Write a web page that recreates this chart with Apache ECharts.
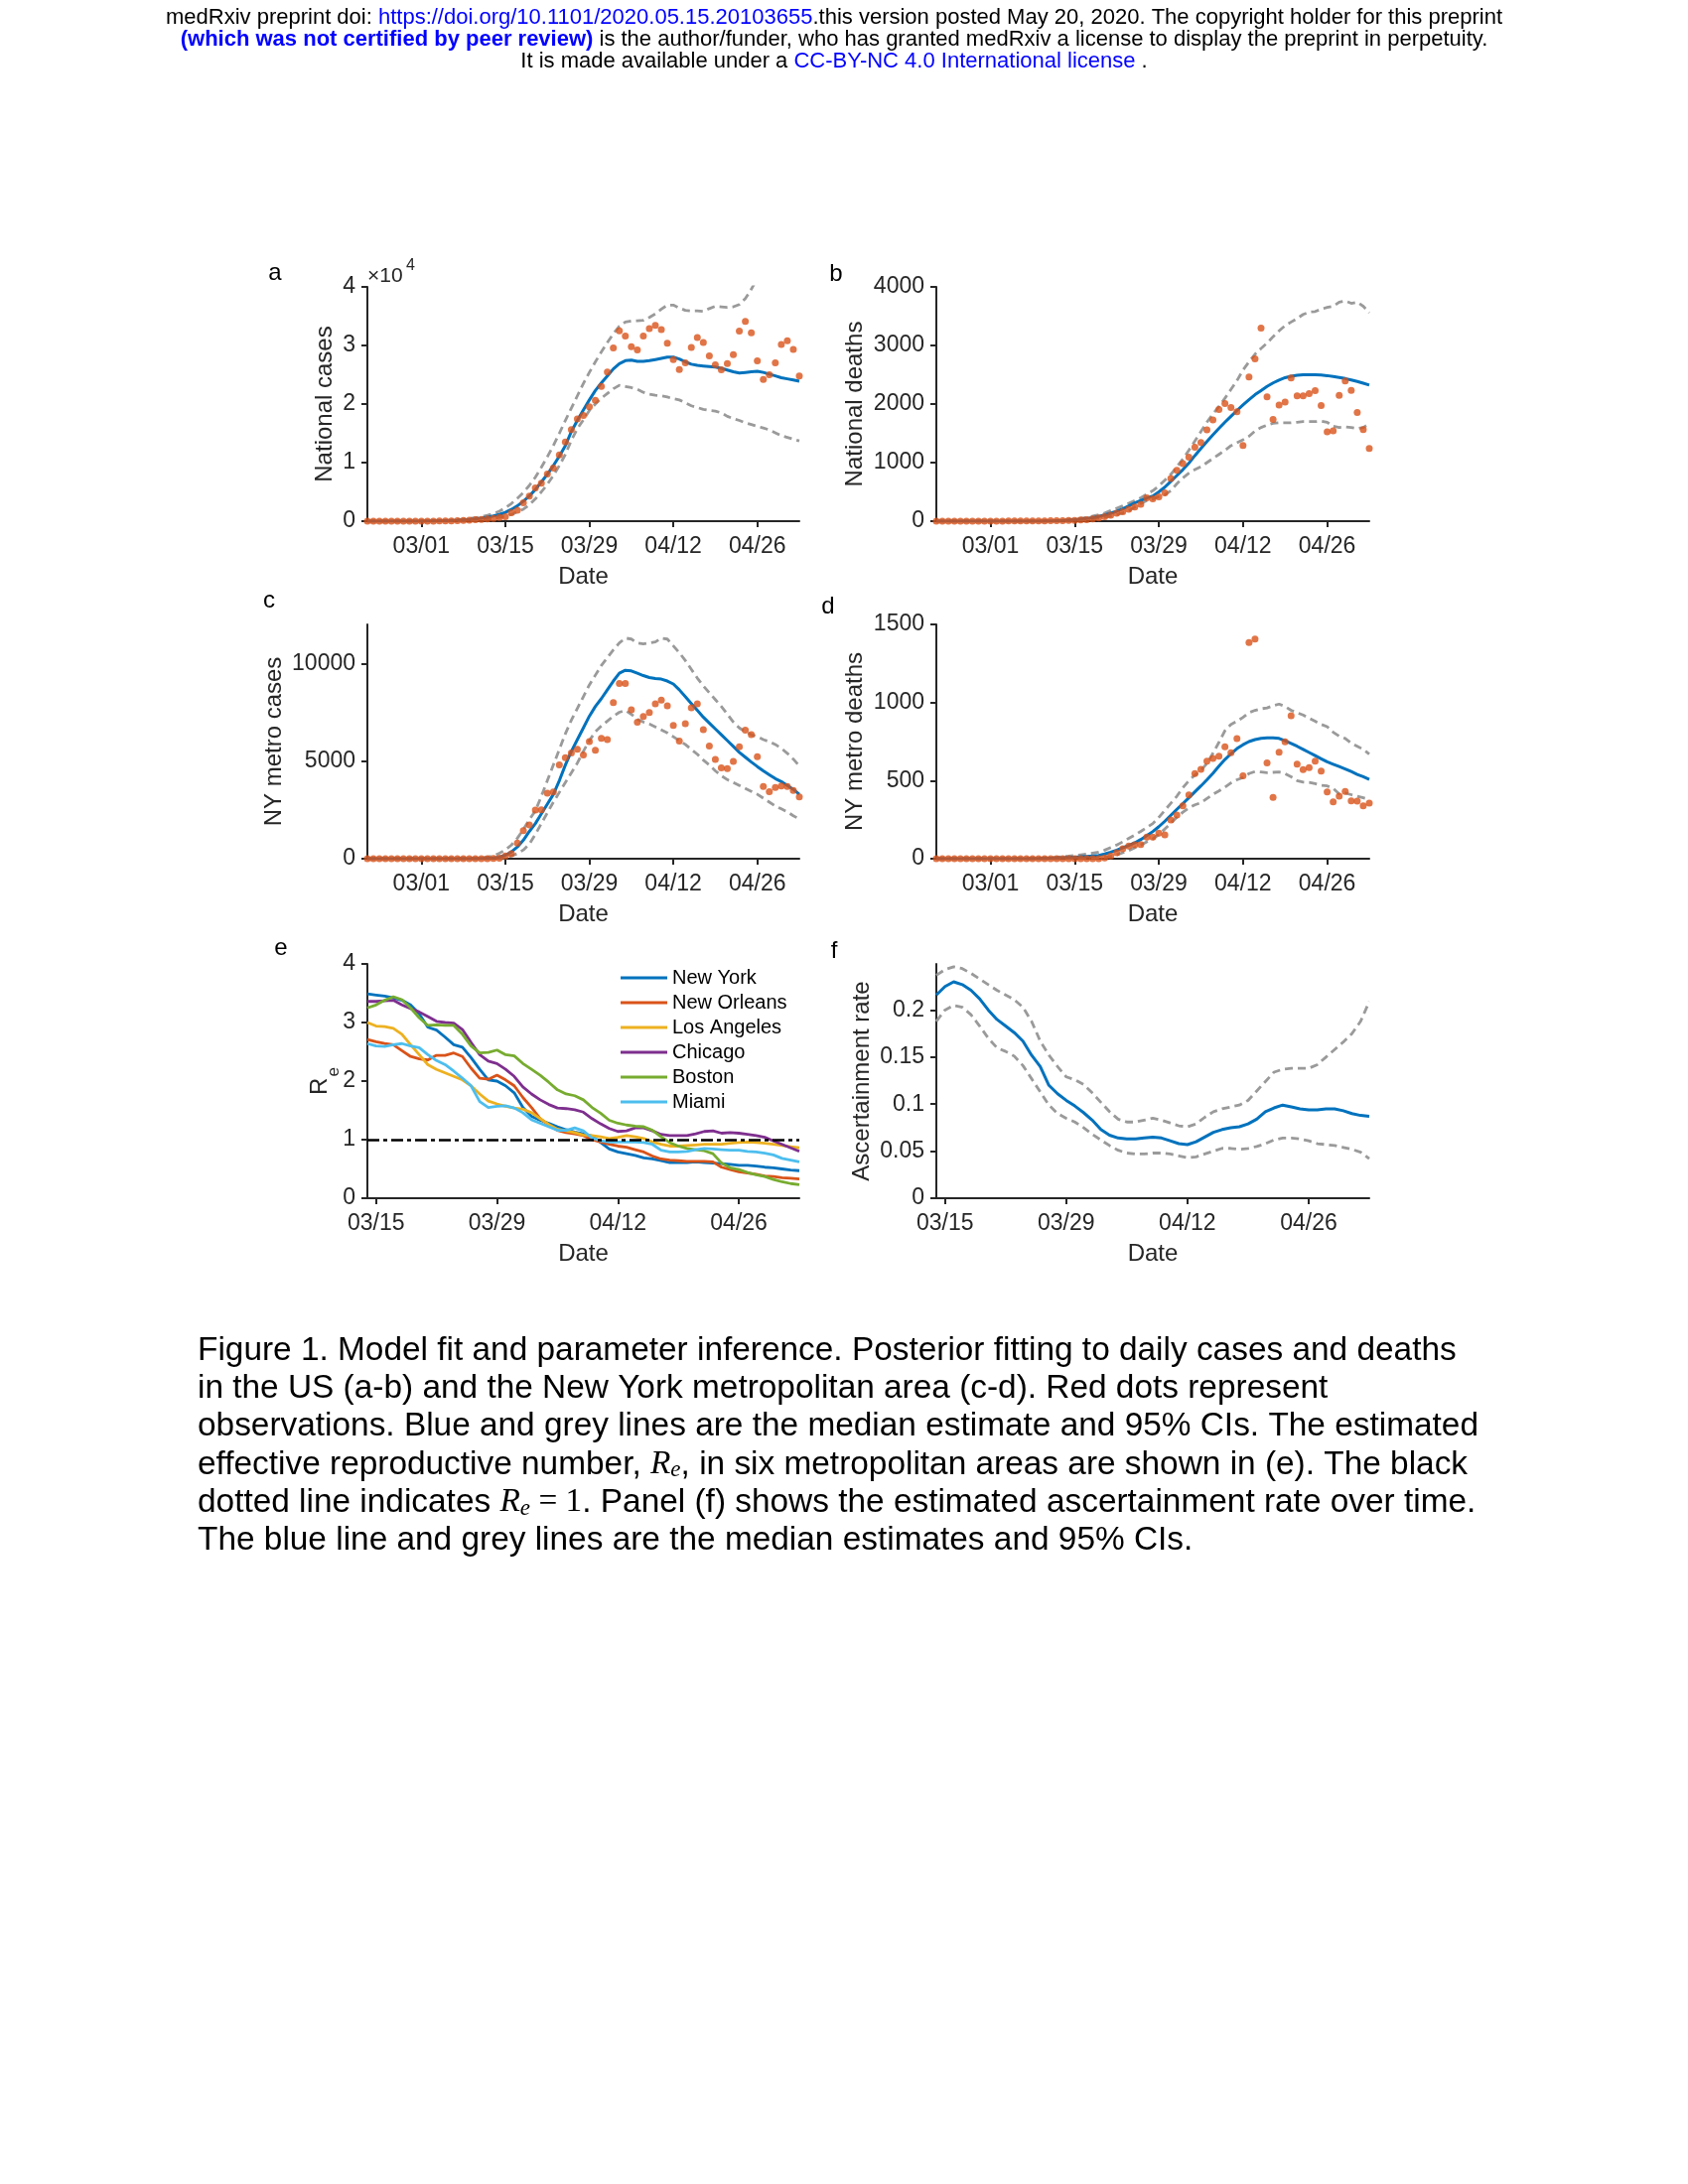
<!DOCTYPE html>
<html><head><meta charset="utf-8">
<script src="https://cdn.jsdelivr.net/npm/echarts@6/dist/echarts.min.js"></script>
<style>html,body{margin:0;padding:0;background:#fff}#c{width:1700px;height:2200px}</style>
</head><body><div id="c"></div>
<script>
// ---------- DATA ----------
// Panels a-d: daily from 02/21 to 05/03 (73 days); panels e-f: 03/14 to 05/03 (51 days)
const ticksAD = ['03/01','03/15','03/29','04/12','04/26'];
const ticksEF = ['03/15','03/29','04/12','04/26'];

// a: National cases
const natCasesObs = [0,0,0,0,0,0,0,0,0, 10,15,20,30,50,60,100,110, 180,260,300,380,450,620,750,
  1460,1850,3150,4280,
  5690,6480,8060,9080,11300,13500,15650,17450,18030,19520,
  20620,23000,25450,29560,32500,31590,29800,29220,31590,32900,
  33450,32720,30400,27600,25900,27020,29680,31370,30520,28200,
  26680,25840,26920,28440,32440,34130,32170,27360,24210,25000,
  27050,30150,30800,29330,24800];
const natCasesMed = [0,0,0,0,0,0,0,0,10,20,30,50,70,
  100,130,170,220,300,400,520,680,880,1150,
  1500,2000,2600,3400,4300,5400,6700,8000,9500,11100,
  12900,15300,17200,19000,20700,22300,23600,24800,26000,26900,
  27400,27500,27300,27300,27400,27600,27800,28000,28000,27700,
  27200,26800,26600,26500,26400,26300,26100,25800,25500,25300,
  25400,25500,25600,25400,25100,24800,24500,24300,24100,23900];
const natCasesHi = [0,0,0,0,0,0,0,0,10,20,40,60,90,
  130,180,250,330,440,580,760,1000,1300,1700,
  2300,3000,3900,4900,6100,7500,9200,11000,12900,15000,
  17200,19300,21400,23500,25400,27200,28900,30500,32000,33300,
  34000,34200,34200,34300,34800,35400,36200,36900,36900,36400,
  36000,35900,35900,35800,36300,36700,36600,36500,36600,37000,
  38000,39600,41500,43000,44500,46000,47500,49000,50500,52000];
const natCasesLo = [0,0,0,0,0,0,0,0,0,5,10,20,30,40,60,
  80,110,150,200,270,360,480,640,850,1150,
  1550,2050,2800,3800,5000,6300,7800,9500,11400,13800,
  15800,17300,18900,20000,21000,21800,22600,23200,23000,22800,
  22500,22000,21700,21500,21400,21200,20900,20700,20200,19700,
  19400,19100,18900,18800,18500,17900,17500,17200,16800,16500,
  16200,15900,15600,15100,14600,14300,14000,13700];

// b: National deaths
const natDeathsObs = [0,0,0,0,0,0,0,0,1, 1,1,2,3,4,3,4,5, 4,5,7,10,10,12,14, 20,25,40,55,
  78,100,135,163,203,242,288,400,383,417,
  484,728,869,982,1094,1263,1342,1558,1727,1906,
  2008,1940,1867,1292,2460,2770,3295,2121,1737,1981,
  2032,2443,2138,2138,2177,2228,1974,1524,1541,2150,
  2392,2235,1856,1563,1241];
const natDeathsMed = [0,0,0,0,0,0,0,0,0,0,0,0,0,0,0,0,
  1,2,3,5,8,12,17,24,33,45,60,80,
  105,135,170,210,260,310,355,395,430,500,
  580,680,780,880,990,1120,1240,1360,1475,1585,
  1690,1790,1890,1985,2075,2160,2230,2300,2360,2410,
  2450,2475,2490,2500,2500,2500,2495,2485,2470,2455,
  2435,2410,2385,2355,2325];
const natDeathsHi = [0,0,0,0,0,0,0,0,0,0,0,0,0,0,0,0,0,0,
  5,8,12,18,25,35,48,64,85,110,
  140,180,220,260,305,350,400,460,520,600,
  700,800,930,1060,1210,1370,1530,1690,1830,1960,
  2100,2250,2400,2580,2720,2850,2950,3040,3150,3250,
  3340,3400,3460,3530,3570,3580,3620,3650,3670,3740,
  3760,3720,3740,3670,3560];
const natDeathsLo = [0,0,0,0,0,0,0,0,0,0,0,0,0,0,0,0,0,0,0,0,
  3,6,10,15,22,30,40,52,68,88,
  110,140,180,240,300,350,380,420,450,520,
  640,740,820,880,930,1000,1070,1140,1210,1290,
  1340,1390,1450,1540,1600,1640,1670,1680,1680,1680,
  1690,1700,1700,1700,1710,1690,1620,1600,1610,1600,
  1580,1600,1660];

// c: NY metro cases
const nyCasesObs = [0,0,0,0,0,0,0,0,0,0,0,0,0,0,0,0,0,0,0,0,
  5,15,30,140,250,800,1440,1730,2490,2500,
  3360,3420,4800,5170,5420,5600,5310,6000,5560,6170,
  6100,8000,8970,8970,7630,6990,7290,7490,7930,8120,
  7830,6830,6020,6920,7730,7930,6610,5770,5090,4650,
  4610,4980,5730,6580,6360,5220,3700,3430,3650,3730,
  3700,3490,3170];
const nyCasesMed = [0,0,0,0,0,0,0,0,0,0,0,0,0,0,0,0,0,0,0,
  10,20,40,80,180,350,600,950,1400,1800,
  2300,2800,3300,4000,4800,5500,6100,6700,7300,7800,
  8200,8650,9100,9500,9650,9620,9500,9380,9280,9230,
  9200,9100,8950,8650,8300,7950,7600,7250,6950,6650,
  6350,6050,5750,5450,5200,4950,4720,4500,4300,4100,
  3950,3750,3550,3300];
const nyCasesHi = [0,0,0,0,0,0,0,0,0,0,0,0,0,0,0,0,0,
  10,20,40,80,150,280,450,700,1050,1500,
  2000,2450,3200,4000,4800,5600,6400,7100,7700,8300,
  8900,9400,9900,10300,10700,11050,11300,11250,11050,11000,
  11050,11100,11300,11250,10900,10550,10150,9700,9250,8850,
  8500,8150,7800,7400,7000,6700,6500,6350,6250,6100,
  6000,5850,5650,5400,5100,4750];
const nyCasesLo = [0,0,0,0,0,0,0,0,0,0,0,0,0,0,0,0,0,0,0,0,0,
  10,30,70,140,260,450,750,1250,1800,2350,
  2900,3400,3900,4400,4900,5500,6050,6500,6800,7050,
  7300,7500,7600,7400,7150,7000,6900,6750,6600,6450,
  6250,6050,5850,5600,5350,5050,4800,4500,4250,4050,
  3900,3750,3600,3450,3300,3100,2900,2700,2550,2400,
  2200,2030];

// d: NY metro deaths
const nyDeathsObs = [0,0,0,0,0,0,0,0,0,0,0,0,0,0,0,0,0,0,0,0,0,0,0,0,0,0,0,0,
  5,17,38,64,81,89,91,138,138,163,
  153,248,280,339,409,545,572,625,642,657,
  716,678,769,530,1384,1407,null,614,392,682,
  748,915,606,570,583,625,561,428,364,400,
  430,371,369,339,356];
const nyDeathsMed = [0,0,0,0,0,0,0,0,0,0,0,0,0,0,0,0,0,
  1,2,3,4,6,8,10,12,15,18,
  21,30,42,55,70,85,102,123,148,174,
  205,240,278,316,353,390,428,466,505,547,
  593,635,672,705,730,750,763,771,774,774,
  770,755,738,720,700,680,660,640,620,605,
  590,575,558,540,525,508];
const nyDeathsHi = [0,0,0,0,0,0,0,0,0,0,0,0,0,0,0,0,
  2,4,6,8,10,13,16,20,25,30,
  36,42,55,72,88,108,130,152,175,200,
  225,265,310,355,400,455,500,535,565,610,
  675,745,820,860,880,905,935,950,960,965,
  980,990,975,950,935,920,900,880,860,845,
  810,785,770,740,720,700,670];
const nyDeathsLo = [0,0,0,0,0,0,0,0,0,0,0,0,0,0,0,0,0,0,0,0,0,
  1,2,3,4,5,6,7,10,15,25,
  38,52,70,88,108,127,155,190,228,265,
  298,325,345,358,385,412,434,458,485,505,
  520,545,558,555,551,553,555,545,525,500,
  490,488,480,470,466,450,415,420,410,400,
  390,380];

// e: effective reproductive number
const reNewYork = [3.49,3.47,3.45,3.42,3.38,3.30,3.15,2.92,2.87,2.75,
  2.62,2.58,2.40,2.20,2.02,2.00,1.92,1.80,1.55,1.40,
  1.33,1.28,1.22,1.17,1.13,1.10,1.06,0.95,0.84,0.79,
  0.76,0.73,0.69,0.67,0.64,0.61,0.61,0.61,0.62,0.61,
  0.60,0.59,0.58,0.56,0.56,0.55,0.53,0.52,0.50,0.48,0.47];
const reNewOrleans = [2.71,2.67,2.64,2.62,2.52,2.42,2.38,2.36,2.44,2.44,
  2.48,2.42,2.22,2.05,2.03,2.10,2.02,1.92,1.72,1.55,
  1.36,1.25,1.16,1.12,1.10,1.07,1.00,0.96,0.92,0.89,
  0.87,0.83,0.79,0.72,0.67,0.65,0.64,0.63,0.63,0.63,
  0.62,0.53,0.49,0.45,0.43,0.41,0.38,0.37,0.35,0.34,0.33];
const reLosAngeles = [3.00,2.94,2.93,2.90,2.80,2.62,2.45,2.28,2.20,2.14,
  2.08,2.02,1.92,1.78,1.66,1.61,1.57,1.54,1.52,1.46,
  1.36,1.26,1.18,1.15,1.12,1.08,1.07,1.05,1.02,1.04,
  1.07,1.05,1.02,0.96,0.92,0.89,0.89,0.90,0.91,0.92,
  0.92,0.92,0.94,0.95,0.96,0.95,0.94,0.92,0.90,0.88,0.86];
const reChicago = [3.36,3.36,3.37,3.38,3.30,3.24,3.18,3.10,3.02,3.00,
  2.99,2.88,2.66,2.45,2.34,2.30,2.20,2.08,1.90,1.78,
  1.68,1.60,1.54,1.53,1.51,1.47,1.36,1.27,1.19,1.14,
  1.15,1.20,1.20,1.15,1.09,1.07,1.07,1.07,1.10,1.14,
  1.15,1.11,1.12,1.11,1.09,1.07,1.04,0.98,0.92,0.86,0.80];
const reBoston = [3.25,3.30,3.38,3.44,3.39,3.25,3.08,2.95,2.96,2.95,
  2.95,2.80,2.60,2.48,2.49,2.53,2.45,2.43,2.30,2.20,
  2.10,1.98,1.85,1.78,1.75,1.68,1.55,1.45,1.33,1.28,
  1.25,1.23,1.22,1.16,1.05,0.95,0.89,0.85,0.83,0.81,
  0.76,0.60,0.52,0.49,0.44,0.40,0.37,0.32,0.28,0.25,0.23];
const reMiami = [2.64,2.60,2.59,2.62,2.64,2.60,2.57,2.45,2.35,2.28,
  2.17,2.05,1.92,1.65,1.55,1.57,1.58,1.54,1.46,1.34,
  1.28,1.22,1.16,1.16,1.20,1.15,1.03,0.98,0.96,0.96,
  0.96,0.96,0.95,0.92,0.82,0.79,0.79,0.80,0.83,0.85,
  0.84,0.83,0.82,0.82,0.80,0.79,0.77,0.74,0.68,0.65,0.62];
const reThreshold = 1;

// f: ascertainment rate
const ascMed = [0.216,0.225,0.230,0.227,0.221,0.212,0.200,0.190,0.183,0.176,
  0.167,0.152,0.140,0.120,0.111,0.104,0.098,0.091,0.083,0.073,
  0.067,0.064,0.063,0.063,0.064,0.065,0.064,0.061,0.058,0.057,
  0.060,0.065,0.070,0.073,0.075,0.076,0.079,0.084,0.092,0.096,
  0.099,0.097,0.095,0.094,0.094,0.095,0.095,0.093,0.090,0.088,0.087];
const ascHi = [0.237,0.243,0.246,0.244,0.239,0.233,0.227,0.221,0.216,0.211,
  0.203,0.188,0.167,0.152,0.140,0.129,0.126,0.121,0.112,0.102,
  0.092,0.084,0.081,0.081,0.083,0.085,0.083,0.080,0.077,0.076,
  0.079,0.086,0.092,0.095,0.097,0.099,0.104,0.114,0.124,0.134,
  0.137,0.138,0.138,0.138,0.142,0.150,0.158,0.166,0.175,0.188,0.209];
const ascLo = [0.188,0.200,0.205,0.203,0.195,0.183,0.170,0.160,0.156,0.151,
  0.141,0.127,0.113,0.099,0.090,0.085,0.081,0.075,0.068,0.062,
  0.056,0.051,0.048,0.047,0.047,0.048,0.048,0.047,0.045,0.043,
  0.044,0.047,0.050,0.053,0.053,0.052,0.053,0.055,0.058,0.062,
  0.064,0.064,0.063,0.061,0.058,0.057,0.056,0.054,0.052,0.049,0.042];

// ---------- HELPERS ----------
function dateRange(m, d, n) {
  const out = []; const dt = new Date(2020, m - 1, d);
  for (let i = 0; i < n; i++) {
    out.push(String(dt.getMonth() + 1).padStart(2, '0') + '/' + String(dt.getDate()).padStart(2, '0'));
    dt.setDate(dt.getDate() + 1);
  }
  return out;
}
const datesAD = dateRange(2, 21, 73);
const datesEF = dateRange(3, 14, 51);

const FONT = '"Liberation Sans", Arial, Helvetica, sans-serif';
const SERIF = '"Liberation Serif", "DejaVu Serif", serif';
const AX = '#262626';
const BLUE = '#0072BD', RED = '#D95319', GREY = '#9a9a9a';
const TF = 23;

const grids = [
  {left: 370, top: 289, width: 435, height: 236},
  {left: 943, top: 289, width: 436, height: 236},
  {left: 370, top: 629, width: 435, height: 236},
  {left: 943, top: 629, width: 436, height: 236},
  {left: 370, top: 971, width: 435, height: 236},
  {left: 943, top: 971, width: 436, height: 236}
];

function xAx(gi, cats, ticks) {
  const f = (i, v) => ticks.indexOf(v) >= 0;
  return {
    type: 'category', gridIndex: gi, data: cats, boundaryGap: false,
    axisLine: {show: true, lineStyle: {color: AX, width: 2}},
    axisTick: {show: true, inside: false, length: 6, interval: f, lineStyle: {color: AX, width: 2}},
    axisLabel: {interval: f, margin: 14, fontSize: TF, color: AX, fontFamily: FONT},
    splitLine: {show: false},
    name: 'Date', nameLocation: 'middle', nameGap: 44,
    nameTextStyle: {fontSize: 24, color: AX, fontFamily: FONT}
  };
}
const plain = v => String(+(+v).toFixed(2));
function yAx(gi, min, max, interval, name, gap, fmt, custom) {
  const ax = {
    type: 'value', gridIndex: gi, min: min, max: max, interval: interval,
    axisLine: {show: true, lineStyle: {color: AX, width: 2}},
    axisTick: {show: true, inside: false, length: 6, lineStyle: {color: AX, width: 2}},
    axisLabel: {margin: 12, fontSize: TF, color: AX, fontFamily: FONT, formatter: fmt || plain},
    splitLine: {show: false},
    name: name, nameLocation: 'middle', nameGap: gap,
    nameTextStyle: {fontSize: 24, color: AX, fontFamily: FONT}
  };
  if (custom) {
    ax.axisLabel.customValues = custom;
    ax.axisTick.customValues = custom;
  }
  return ax;
}

function band(gi, obs, med, hi, lo) {
  const base = {xAxisIndex: gi, yAxisIndex: gi, symbol: 'none', silent: true, clip: true};
  const out = [
    Object.assign({type: 'line', data: hi, lineStyle: {color: GREY, width: 2.8, type: [8, 5]}, z: 2}, base),
    Object.assign({type: 'line', data: lo, lineStyle: {color: GREY, width: 2.8, type: [8, 5]}, z: 2}, base),
    Object.assign({type: 'line', data: med, lineStyle: {color: BLUE, width: 3}, z: 3}, base)
  ];
  if (obs) out.push({type: 'scatter', xAxisIndex: gi, yAxisIndex: gi, data: obs, symbol: 'circle',
    symbolSize: 7, itemStyle: {color: RED}, silent: true, z: 5});
  return out;
}

const reNames = ['New York','New Orleans','Los Angeles','Chicago','Boston','Miami'];
const reData = [reNewYork, reNewOrleans, reLosAngeles, reChicago, reBoston, reMiami];
const reColors = ['#0072BD','#D95319','#EDB120','#7E2F8E','#77AC30','#4DBEEE'];
const reSeries = reNames.map((n, i) => ({
  type: 'line', name: n, xAxisIndex: 4, yAxisIndex: 4, data: reData[i], symbol: 'none',
  color: reColors[i], lineStyle: {color: reColors[i], width: 2.8}, silent: true, z: 3
}));
reSeries[5].markLine = {
  silent: true, symbol: ['none', 'none'], label: {show: false}, animation: false,
  lineStyle: {color: '#000', width: 2.6, type: [12, 4, 4, 4]},
  data: [{yAxis: reThreshold}]
};

// ---------- TEXT ----------
const headerLines = [
  '{k|medRxiv preprint doi: }{l|https://doi.org/10.1101/2020.05.15.20103655}{k|.this version posted May 20, 2020. The copyright holder for this preprint}',
  '{b|(which was not certified by peer review)}{k| is the author/funder, who has granted medRxiv a license to display the preprint in perpetuity.}',
  '{k|It is made available under a }{l|CC-BY-NC 4.0 International license}{k| .}'
];
const captionLines = [
  '{t|Figure 1. Model fit and parameter inference. Posterior fitting to daily cases and deaths}',
  '{t|in the US (a-b) and the New York metropolitan area (c-d). Red dots represent}',
  '{t|observations. Blue and grey lines are the median estimate and 95% CIs. The estimated}',
  '{t|effective reproductive number, }{m|R}{s|e}{t|, in six metropolitan areas are shown in (e). The black}',
  '{t|dotted line indicates }{m|R}{s|e}{n| = 1}{t|. Panel (f) shows the estimated ascertainment rate over time.}',
  '{t|The blue line and grey lines are the median estimates and 95% CIs.}'
];
const panelLetters = [['a',277,275],['b',842,276],['c',271,605],['d',834,611],['e',283,955],['f',840,958]];

const graphics = [];
const HF = 22;
headerLines.forEach((t, i) => graphics.push({
  type: 'text', x: 840, y: 18 + i * 22, silent: true,
  style: {text: t, textAlign: 'center', textVerticalAlign: 'middle', rich: {
    k: {fill: '#000', fontSize: HF, fontFamily: FONT},
    l: {fill: '#0000ff', fontSize: HF, fontFamily: FONT},
    b: {fill: '#0000ff', fontSize: HF, fontFamily: FONT, fontWeight: 'bold'}
  }}
}));
captionLines.forEach((t, i) => graphics.push({
  type: 'text', x: 199, y: 1344 + i * 38.3, silent: true,
  style: {text: t, textAlign: 'left', textVerticalAlign: 'top', rich: {
    t: {fill: '#000', fontSize: 33.4, fontFamily: FONT, lineHeight: 38, verticalAlign: 'top'},
    m: {fill: '#000', fontSize: 33.4, fontFamily: SERIF, fontStyle: 'italic', lineHeight: 38, verticalAlign: 'top'},
    s: {fill: '#000', fontSize: 23, fontFamily: SERIF, fontStyle: 'italic', lineHeight: 38, verticalAlign: 'top', padding: [11, 0, 0, 0]},
    n: {fill: '#000', fontSize: 33.4, fontFamily: SERIF, lineHeight: 38, verticalAlign: 'top'}
  }}
}));
panelLetters.forEach(p => graphics.push({
  type: 'text', x: p[1], y: p[2], silent: true,
  style: {text: p[0], fill: '#000', fontSize: 24, fontFamily: FONT, textAlign: 'center', textVerticalAlign: 'middle'}
}));
// x10^4 exponent label for panel a
graphics.push({type: 'text', x: 370, y: 278, silent: true,
  style: {text: '×10', fill: AX, fontSize: 21, fontFamily: FONT, textAlign: 'left', textVerticalAlign: 'middle'}});
graphics.push({type: 'text', x: 409, y: 268, silent: true,
  style: {text: '4', fill: AX, fontSize: 16, fontFamily: FONT, textAlign: 'left', textVerticalAlign: 'middle'}});
// R_e axis title for panel e
graphics.push({type: 'text', x: 334, y: 1089, rotation: Math.PI / 2, silent: true,
  style: {text: '{r|R}{s|e}', textAlign: 'center', textVerticalAlign: 'bottom', rich: {
    r: {fill: AX, fontSize: 24, fontFamily: FONT, lineHeight: 24, verticalAlign: 'top'},
    s: {fill: AX, fontSize: 17, fontFamily: FONT, lineHeight: 17, verticalAlign: 'top', padding: [18, 0, 0, 1]}
  }}});

// ---------- CHART ----------
const chart = echarts.init(document.getElementById('c'), null, {renderer: 'canvas', width: 1700, height: 2200});
chart.setOption({
  backgroundColor: '#ffffff',
  animation: false,
  textStyle: {fontFamily: FONT},
  grid: grids,
  xAxis: [xAx(0, datesAD, ticksAD), xAx(1, datesAD, ticksAD), xAx(2, datesAD, ticksAD),
          xAx(3, datesAD, ticksAD), xAx(4, datesEF, ticksEF), xAx(5, datesEF, ticksEF)],
  yAxis: [
    yAx(0, 0, 40000, 10000, 'National cases', 31, v => String(v / 10000)),
    yAx(1, 0, 4000, 1000, 'National deaths', 70),
    yAx(2, 0, 12000, 5000, 'NY metro cases', 82, null, [0, 5000, 10000]),
    yAx(3, 0, 1500, 500, 'NY metro deaths', 70),
    yAx(4, 0, 4, 1, '', 40),
    yAx(5, 0, 0.249, 0.05, 'Ascertainment rate', 63, null, [0, 0.05, 0.1, 0.15, 0.2])
  ],
  legend: {
    data: reNames, orient: 'vertical', left: 625, top: 975, padding: 0,
    icon: 'rect', itemWidth: 47, itemHeight: 3, itemGap: 5, selectedMode: false,
    textStyle: {fontSize: 20, lineHeight: 20, color: '#000', fontFamily: FONT}
  },
  series: [].concat(
    band(0, natCasesObs, natCasesMed, natCasesHi, natCasesLo),
    band(1, natDeathsObs, natDeathsMed, natDeathsHi, natDeathsLo),
    band(2, nyCasesObs, nyCasesMed, nyCasesHi, nyCasesLo),
    band(3, nyDeathsObs, nyDeathsMed, nyDeathsHi, nyDeathsLo),
    reSeries,
    band(5, null, ascMed, ascHi, ascLo)
  ),
  graphic: graphics
});
</script></body></html>
